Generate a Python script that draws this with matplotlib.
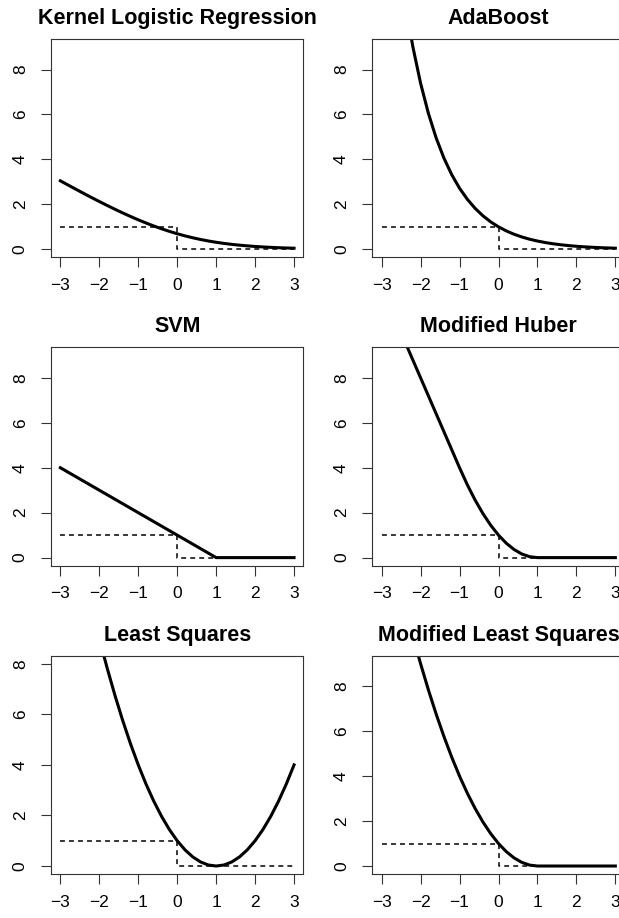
import matplotlib
matplotlib.use("Agg")
import matplotlib.pyplot as plt


# ==========================================================
# 1. DATA (loss values, margin x from -3 to 3)
# ==========================================================

x_grid = [-3.0, -2.8, -2.6, -2.4, -2.2, -2.0, -1.8, -1.6, -1.4, -1.2,
          -1.0, -0.8, -0.6, -0.4, -0.2, 0.0, 0.2, 0.4, 0.6, 0.8,
          1.0, 1.2, 1.4, 1.6, 1.8, 2.0, 2.2, 2.4, 2.6, 2.8, 3.0]

logistic_loss = [3.049, 2.859, 2.672, 2.487, 2.305, 2.127, 1.953, 1.784, 1.620, 1.463,
                 1.313, 1.171, 1.037, 0.913, 0.798, 0.693, 0.598, 0.513, 0.437, 0.371,
                 0.313, 0.263, 0.220, 0.184, 0.153, 0.127, 0.105, 0.087, 0.072, 0.059,
                 0.049]

adaboost_loss = [20.09, 16.44, 13.46, 11.02, 9.025, 7.389, 6.050, 4.953, 4.055, 3.320,
                 2.718, 2.226, 1.822, 1.492, 1.221, 1.000, 0.819, 0.670, 0.549, 0.449,
                 0.368, 0.301, 0.247, 0.202, 0.165, 0.135, 0.111, 0.091, 0.074, 0.061,
                 0.050]

svm_loss = [4.0, 3.8, 3.6, 3.4, 3.2, 3.0, 2.8, 2.6, 2.4, 2.2,
            2.0, 1.8, 1.6, 1.4, 1.2, 1.0, 0.8, 0.6, 0.4, 0.2,
            0.0, 0.0, 0.0, 0.0, 0.0, 0.0, 0.0, 0.0, 0.0, 0.0,
            0.0]

huber_loss = [12.0, 11.2, 10.4, 9.6, 8.8, 8.0, 7.2, 6.4, 5.6, 4.8,
              4.0, 3.24, 2.56, 1.96, 1.44, 1.0, 0.64, 0.36, 0.16, 0.04,
              0.0, 0.0, 0.0, 0.0, 0.0, 0.0, 0.0, 0.0, 0.0, 0.0,
              0.0]

squares_loss = [16.0, 14.44, 12.96, 11.56, 10.24, 9.0, 7.84, 6.76, 5.76, 4.84,
                4.0, 3.24, 2.56, 1.96, 1.44, 1.0, 0.64, 0.36, 0.16, 0.04,
                0.0, 0.04, 0.16, 0.36, 0.64, 1.0, 1.44, 1.96, 2.56, 3.24,
                4.0]

mod_squares_loss = [16.0, 14.44, 12.96, 11.56, 10.24, 9.0, 7.84, 6.76, 5.76, 4.84,
                    4.0, 3.24, 2.56, 1.96, 1.44, 1.0, 0.64, 0.36, 0.16, 0.04,
                    0.0, 0.0, 0.0, 0.0, 0.0, 0.0, 0.0, 0.0, 0.0, 0.0,
                    0.0]

# 0-1 misclassification loss (dashed step)
step_x = [-3, 0, 0, 3]
step_y = [1, 1, 0, 0]

titles = ["Kernel Logistic Regression", "AdaBoost",
          "SVM", "Modified Huber",
          "Least Squares", "Modified Least Squares"]

losses = [logistic_loss, adaboost_loss,
          svm_loss, huber_loss,
          squares_loss, mod_squares_loss]

y_upper = [9, 9, 9, 9, 8, 9]

x_ticks = [-3, -2, -1, 0, 1, 2, 3]
y_ticks = [0, 2, 4, 6, 8]


# ==========================================================
# 2. FIGURE LAYOUT (3 x 2 panels, pixel positions)
# ==========================================================

plt.rcParams["font.family"] = ["Liberation Sans", "DejaVu Sans"]

W, H = 619, 918
fig = plt.figure(figsize=(W / 100, H / 100), dpi=100)

panel_left = [51, 372.3]
panel_top = [39, 347.3, 655.7]
panel_w = 252.4
panel_h = 218.4


# ==========================================================
# 3. DRAW PANELS
# ==========================================================

for i in range(6):

    row, col = divmod(i, 2)

    ax = fig.add_axes([
        panel_left[col] / W,
        1 - (panel_top[row] + panel_h) / H,
        panel_w / W,
        panel_h / H
    ])

    ax.plot(step_x, step_y, color="black", lw=1.1,
            linestyle=(0, (3.2, 2.7)))

    ax.plot(x_grid, losses[i], color="black", lw=2.2)

    ax.set_xlim(-3.24, 3.24)
    ax.set_ylim(-0.04 * y_upper[i], 1.04 * y_upper[i])

    ax.set_xticks(x_ticks)
    ax.set_yticks(y_ticks)

    ax.tick_params(direction="out", length=7.2, width=0.8,
                   color="#333333", labelsize=12.5)
    ax.tick_params(axis="x", pad=7.5)
    ax.tick_params(axis="y", pad=9.5)

    for lab in ax.get_yticklabels():
        lab.set_rotation(90)
        lab.set_va("center")

    for spine in ax.spines.values():
        spine.set_linewidth(0.8)
        spine.set_color("#333333")

    ax.set_title(titles[i], fontsize=15.5, fontweight="bold", pad=10.8)


plt.savefig("out.png", dpi=100)
